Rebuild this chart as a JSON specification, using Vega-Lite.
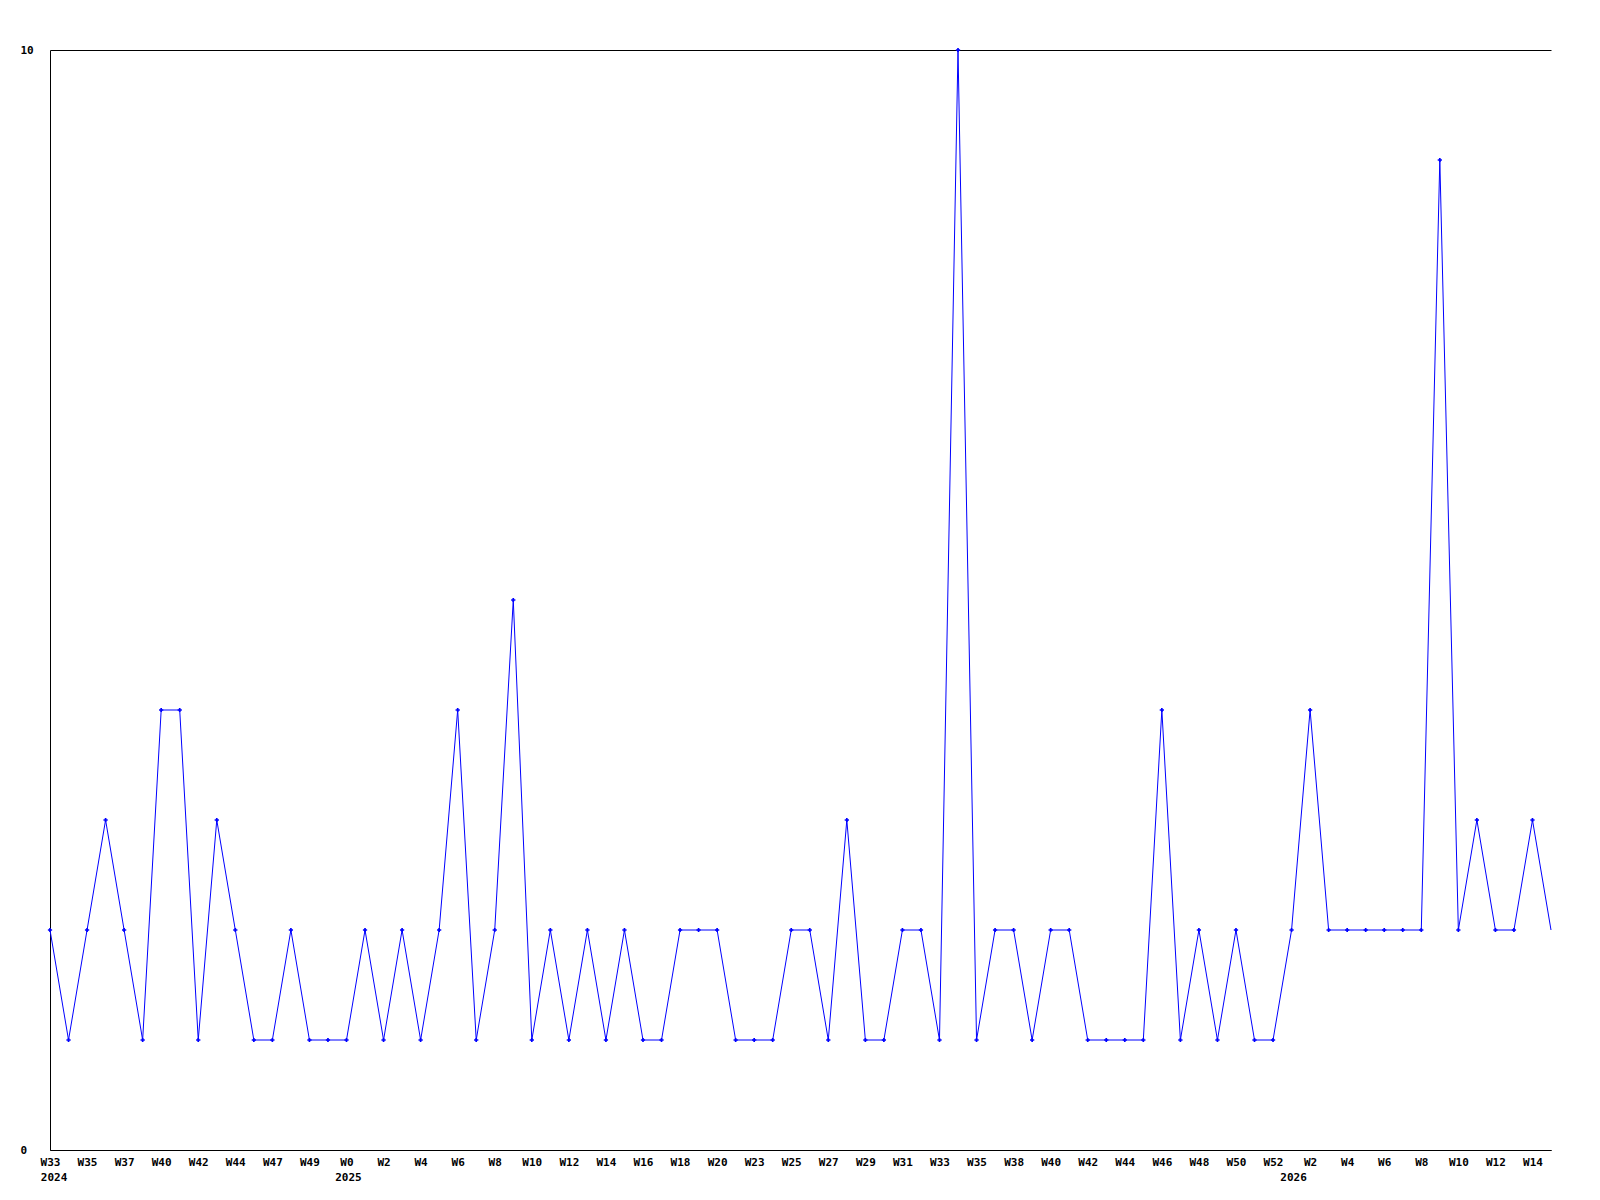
{
  "$schema": "https://vega.github.io/schema/vega-lite/v6.json",
  "width": 1501,
  "height": 1100,
  "autosize": "none",
  "padding": {"left": 50, "top": 50, "right": 49, "bottom": 50},
  "background": "white",
  "config": {
    "view": {"stroke": null},
    "axis": {"labelFont": "DejaVu Sans Mono", "labelFontWeight": "bold", "labelFontSize": 11, "labelColor": "black", "domainColor": "black", "domainWidth": 1, "ticks": false, "title": null}
  },
  "data": {
    "values": [
      {"i": 0, "count": 2}, {"i": 1, "count": 1}, {"i": 2, "count": 2}, {"i": 3, "count": 3}, {"i": 4, "count": 2},
      {"i": 5, "count": 1}, {"i": 6, "count": 4}, {"i": 7, "count": 4}, {"i": 8, "count": 1}, {"i": 9, "count": 3},
      {"i": 10, "count": 2}, {"i": 11, "count": 1}, {"i": 12, "count": 1}, {"i": 13, "count": 2}, {"i": 14, "count": 1},
      {"i": 15, "count": 1}, {"i": 16, "count": 1}, {"i": 17, "count": 2}, {"i": 18, "count": 1}, {"i": 19, "count": 2},
      {"i": 20, "count": 1}, {"i": 21, "count": 2}, {"i": 22, "count": 4}, {"i": 23, "count": 1}, {"i": 24, "count": 2},
      {"i": 25, "count": 5}, {"i": 26, "count": 1}, {"i": 27, "count": 2}, {"i": 28, "count": 1}, {"i": 29, "count": 2},
      {"i": 30, "count": 1}, {"i": 31, "count": 2}, {"i": 32, "count": 1}, {"i": 33, "count": 1}, {"i": 34, "count": 2},
      {"i": 35, "count": 2}, {"i": 36, "count": 2}, {"i": 37, "count": 1}, {"i": 38, "count": 1}, {"i": 39, "count": 1},
      {"i": 40, "count": 2}, {"i": 41, "count": 2}, {"i": 42, "count": 1}, {"i": 43, "count": 3}, {"i": 44, "count": 1},
      {"i": 45, "count": 1}, {"i": 46, "count": 2}, {"i": 47, "count": 2}, {"i": 48, "count": 1}, {"i": 49, "count": 10},
      {"i": 50, "count": 1}, {"i": 51, "count": 2}, {"i": 52, "count": 2}, {"i": 53, "count": 1}, {"i": 54, "count": 2},
      {"i": 55, "count": 2}, {"i": 56, "count": 1}, {"i": 57, "count": 1}, {"i": 58, "count": 1}, {"i": 59, "count": 1},
      {"i": 60, "count": 4}, {"i": 61, "count": 1}, {"i": 62, "count": 2}, {"i": 63, "count": 1}, {"i": 64, "count": 2},
      {"i": 65, "count": 1}, {"i": 66, "count": 1}, {"i": 67, "count": 2}, {"i": 68, "count": 4}, {"i": 69, "count": 2},
      {"i": 70, "count": 2}, {"i": 71, "count": 2}, {"i": 72, "count": 2}, {"i": 73, "count": 2}, {"i": 74, "count": 2},
      {"i": 75, "count": 9}, {"i": 76, "count": 2}, {"i": 77, "count": 3}, {"i": 78, "count": 2}, {"i": 79, "count": 2},
      {"i": 80, "count": 3}, {"i": 81, "count": 2}
    ]
  },
  "layer": [
    {
      "mark": {"type": "line", "color": "#0000ff", "strokeWidth": 1, "interpolate": "linear"},
      "encoding": {
        "x": {
          "field": "i", "type": "quantitative",
          "scale": {"domain": [0, 81], "nice": false, "zero": false},
          "axis": {
            "orient": "bottom", "grid": false,
            "values": [0,2,4,6,8,10,12,14,16,18,20,22,24,26,28,30,32,34,36,38,40,42,44,46,48,50,52,54,56,58,60,62,64,66,68,70,72,74,76,78,80],
            "labelExpr": "['W33','W35','W37','W40','W42','W44','W47','W49','W0','W2','W4','W6','W8','W10','W12','W14','W16','W18','W20','W23','W25','W27','W29','W31','W33','W35','W38','W40','W42','W44','W46','W48','W50','W52','W2','W4','W6','W8','W10','W12','W14'][datum.value/2]",
            "labelAlign": "center", "labelBaseline": "top", "labelPadding": 6, "labelOverlap": false, "labelFlush": false, "labelBound": false
          }
        },
        "y": {
          "field": "count", "type": "quantitative",
          "scale": {"domain": [0, 10], "nice": false},
          "axis": {"values": [0, 10], "format": "d", "grid": true, "gridColor": "black", "gridOpacity": 1, "gridWidth": 1, "labelAlign": "left", "labelBaseline": "middle", "labelPadding": 30, "labelFlush": false}
        }
      }
    },
    {
      "transform": [{"filter": "datum.i < 81"}],
      "mark": {"type": "point", "shape": "cross", "filled": true, "color": "#0000ff", "size": 18, "opacity": 1},
      "encoding": {
        "x": {
          "field": "i", "type": "quantitative",
          "scale": {"domain": [0, 81], "nice": false, "zero": false},
          "axis": {
            "orient": "bottom", "domain": false, "grid": false,
            "values": [0.19, 16.08, 67.08],
            "labelExpr": "datum.value < 1 ? '2024' : (datum.value < 20 ? '2025' : '2026')",
            "labelAlign": "center", "labelBaseline": "top", "labelPadding": 21, "labelOverlap": false, "labelFlush": false, "labelBound": false
          }
        },
        "y": {"field": "count", "type": "quantitative", "scale": {"domain": [0, 10], "nice": false}}
      }
    }
  ],
  "resolve": {"axis": {"x": "independent"}}
}
